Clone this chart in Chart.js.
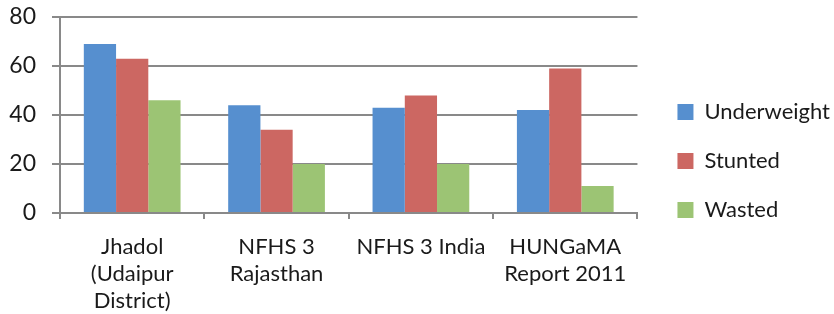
<!DOCTYPE html>
<html>
<head>
<meta charset="utf-8">
<script src="https://cdn.jsdelivr.net/npm/chart.js@4"></script>
<style>
  html, body { margin: 0; padding: 0; background: #fff; }
  #wrap { width: 834px; height: 314px; }
</style>
</head>
<body>
<div id="wrap"><canvas id="chart" width="834" height="314"></canvas></div>
<script>
const categories = [
  ['Jhadol', '(Udaipur', 'District)'],
  ['NFHS 3', 'Rajasthan'],
  ['NFHS 3 India'],
  ['HUNGaMA', 'Report 2011']
];
const underweight = [69, 44, 43, 42];
const stunted = [63, 34, 48, 59];
const wasted = [46, 20, 20, 11];
const yTicks = [0, 20, 40, 60, 80];

const gridGray = '#898989';
const textColor = '#1a1a1a';
const fontFamily = 'Lato, "Liberation Sans", sans-serif';

// nudge the legend to where it sits in the picture
const legendNudge = {
  id: 'legendNudge',
  afterLayout(chart) {
    const lg = chart.legend;
    if (!lg) return;
    lg.left += 13; lg.right += 13;
    lg.top += 4; lg.bottom += 4;
  }
};

new Chart(document.getElementById('chart'), {
  type: 'bar',
  data: {
    labels: categories,
    datasets: [
      { label: 'Underweight', data: underweight, backgroundColor: '#568fcf' },
      { label: 'Stunted', data: stunted, backgroundColor: '#cc6762' },
      { label: 'Wasted', data: wasted, backgroundColor: '#9cc474' }
    ]
  },
  options: {
    responsive: false,
    animation: false,
    layout: { padding: { left: 0, top: 0, right: 7, bottom: 0 } },
    datasets: {
      bar: { barPercentage: 1, categoryPercentage: 0.67, borderWidth: 0 }
    },
    plugins: {
      legend: {
        position: 'right',
        labels: {
          boxWidth: 16,
          boxHeight: 16,
          padding: 27,
          color: textColor,
          font: { family: fontFamily, size: 22 }
        }
      },
      tooltip: { enabled: false }
    },
    scales: {
      x: {
        afterFit(scale) { scale.height = 101; },
        grid: { display: true, drawOnChartArea: false, color: gridGray, lineWidth: 2, tickLength: 6 },
        border: { color: gridGray, width: 2 },
        ticks: {
          color: textColor,
          padding: 14,
          maxRotation: 0,
          autoSkip: false,
          font: { family: fontFamily, size: 22, lineHeight: 1.24 }
        }
      },
      y: {
        min: 0,
        max: 80,
        afterBuildTicks(axis) { axis.ticks = yTicks.map(v => ({ value: v })); },
        afterFit(scale) {
          scale.width = 60;
          scale.paddingTop = 17;
          scale.paddingBottom = 0;
        },
        grid: { color: gridGray, lineWidth: 2, tickLength: 8 },
        border: { color: gridGray, width: 2 },
        ticks: {
          color: textColor,
          padding: 16,
          font: { family: fontFamily, size: 23 }
        }
      }
    }
  },
  plugins: [legendNudge]
});
</script>
</body>
</html>
